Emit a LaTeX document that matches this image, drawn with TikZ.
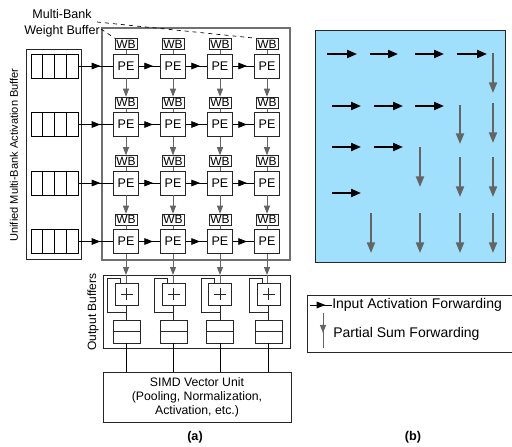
\documentclass[tikz,border=0pt]{standalone}
\usepackage{fontspec}
\setmainfont{Liberation Sans}
\usetikzlibrary{arrows.meta,decorations.markings}

\definecolor{arraygray}{RGB}{112,112,112}
\definecolor{psumgray}{RGB}{100,100,100}
\definecolor{panelblue}{RGB}{160,224,252}

\tikzset{
  pe/.style={draw=black!85, minimum width=18.75pt, minimum height=18pt, inner sep=0pt, font=\fontsize{9.4}{10}\selectfont},
  wb/.style={draw=black!85, minimum width=16.5pt, minimum height=8.25pt, inner sep=0pt, font=\fontsize{9}{9}\selectfont},
  bank/.style={draw=black, minimum width=35.25pt, minimum height=18pt, inner sep=0pt},
  addbox/.style={draw=black!85, minimum width=17.25pt, minimum height=16.5pt, inner sep=0pt},
  regbox/.style={draw=black!85, minimum width=20.25pt, minimum height=17.25pt, inner sep=0pt},
  fwd/.style={draw=black, line width=0.6pt, postaction={decorate},
    decoration={markings, mark=at position #1 with {\arrow{Triangle[length=6.5pt,width=5pt]}}}},
  fwd/.default=0.66,
  psum/.style={draw=psumgray, line width=0.7pt, -{Triangle[length=6pt,width=4.5pt]}},
  psummid/.style={draw=psumgray, line width=0.7pt, postaction={decorate},
    decoration={markings, mark=at position 0.57 with {\arrow{Triangle[length=6pt,width=4.5pt]}}}},
  bigfwd/.style={draw=black, line width=1.5pt, -{Triangle[length=7.5pt,width=6pt]}},
  bigpsum/.style={draw=psumgray, line width=1.5pt, -{Triangle[length=8pt,width=6pt]}},
  lbl/.style={font=\fontsize{9.2}{10.5}\selectfont, align=center}
}

\begin{document}
\begin{tikzpicture}[x=0.75pt,y=-0.75pt]
\useasboundingbox (0,0) rectangle (512,447);

% Activation buffer and PE array frames
\draw[black!85, line width=0.5pt] (26,49) rectangle (81,259);
\draw[arraygray, line width=0.8pt] (102,28) rectangle (290,260);

% Rows of banks, weight buffers and PEs
\foreach \r/\y in {1/66,2/124.5,3/183,4/241.5}{
  \node[bank] (bnk\r) at (54.5,\y) {};
  \foreach \k in {1,2,3}
    \draw[black] ([xshift=\k*8.8125pt]bnk\r.north west) -- ([xshift=\k*8.8125pt]bnk\r.south west);
  \foreach \c/\x in {1/126,2/173,3/220,4/267}{
    \node[pe] (pe\r\c) at (\x,\y) {PE};
    \node[wb] (wb\r\c) at (\x,\y-22) {WB};
    \draw[psumgray, line width=0.5pt] (wb\r\c) -- (pe\r\c);
  }
  \draw[fwd=0.63] (bnk\r.east) -- (pe\r1.west);
  \foreach \c/\n in {1/2,2/3,3/4}
    \draw[fwd] (pe\r\c.east) -- (pe\r\n.west);
}

% Partial sums down the columns
\foreach \r/\n in {1/2,2/3,3/4}
  \foreach \c in {1,2,3,4}
    \draw[psum] (pe\r\c.south) -- (wb\n\c.north);

% Label of the weight buffers
\node[lbl, font=\fontsize{9.4}{12}\selectfont] (wblbl) at (62,23) {Multi-Bank\\Weight Buffer};
\coordinate (wbd1) at (97,22);
\coordinate (wbd2) at (101,29);
\draw[dashed, line width=0.5pt] (wbd1) -- (wb14.north west);
\draw[dashed, line width=0.5pt] (wbd2) -- (wb11.north west);

\node[rotate=90, font=\fontsize{8.3}{10}\selectfont] (actlbl) at (14,155) {Unified Multi-Bank Activation Buffer};

% Output buffers
\draw[black!85, line width=0.5pt] (103,275) rectangle (290,348);
\coordinate (obtop) at (0,275);
\node[lbl, draw=black!85, line width=0.5pt, minimum width=141pt, minimum height=37.5pt, inner sep=0pt] (simd) at (197,397)
  {SIMD Vector Unit\\(Pooling, Normalization,\\Activation, etc.)};
\foreach \c/\x in {1/126.5,2/173.5,3/220,4/268.5}{
  \node[addbox] (add\c) at (\x,294) {};
  \draw[black!85] ([xshift=-4.5pt]add\c.center) -- ([xshift=4.5pt]add\c.center);
  \draw[black!85] ([yshift=-4.5pt]add\c.center) -- ([yshift=4.5pt]add\c.center);
  \node[regbox] (reg\c) at (\x,331.5) {};
  \draw[black!85] (reg\c.west) -- (reg\c.east);
  \draw[psum] (pe4\c.south) -- (pe4\c.south |- obtop);
  \draw[psumgray, line width=0.5pt] (pe4\c.south |- obtop) -- (pe4\c.south |- add\c.north);
  \draw[black!85] (add\c.south) -- (reg\c.north);
  \draw[black!85] ([xshift=-4.5pt]add\c.north) |- ([xshift=-14.25pt,yshift=3pt]add\c.north) |- ([yshift=-5.25pt]add\c.south);
  \draw[black, line width=0.6pt] (reg\c.south) -- (reg\c.south |- simd.north);
}
\node[rotate=90, font=\fontsize{9}{10}\selectfont] (oblbl) at (93,312) {Output Buffers};

% Dataflow panel
\draw[black!85, fill=panelblue, line width=0.6pt] (315,30) rectangle (505,262);
\foreach \y/\a/\b in {54/327/357,54/370/398,54/415/444,54/457/487,
                      106/332/361,106/374/403,106/415/444,
                      147/332/361,147/374/403,
                      193/332/361}
  \draw[bigfwd] (\a,\y) -- (\b,\y);
\foreach \x/\a/\b in {493/53/93,493/103/143,493/157/197,493/213/253,
                      460/105/144,460/157/197,460/213/253,
                      420/147/187,420/213/253,
                      371/213/253}
  \draw[bigpsum] (\x,\a) -- (\x,\b);

% Legend
\draw[black!85, line width=0.5pt] (514,295) -| (307,352) -- (514,352);
\coordinate (lgf1) at (310,305);
\coordinate (lgf2) at (332,305);
\coordinate (lgp1) at (323,313);
\coordinate (lgp2) at (323,348);
\draw[fwd=0.7] (lgf1) -- (lgf2);
\draw[psummid] (lgp1) -- (lgp2);
\node[anchor=west, inner sep=0pt, font=\fontsize{10.5}{12}\selectfont] (lgin) at (332,305) {Input Activation Forwarding};
\node[anchor=west, inner sep=0pt, font=\fontsize{10.5}{12}\selectfont] (lgps) at (333,334) {Partial Sum Forwarding};

% Panel captions
\node[font=\bfseries\fontsize{9.5}{10}\selectfont] (capa) at (195,437) {(a)};
\node[font=\bfseries\fontsize{9.5}{10}\selectfont] (capb) at (413,437) {(b)};

\end{tikzpicture}
\end{document}
